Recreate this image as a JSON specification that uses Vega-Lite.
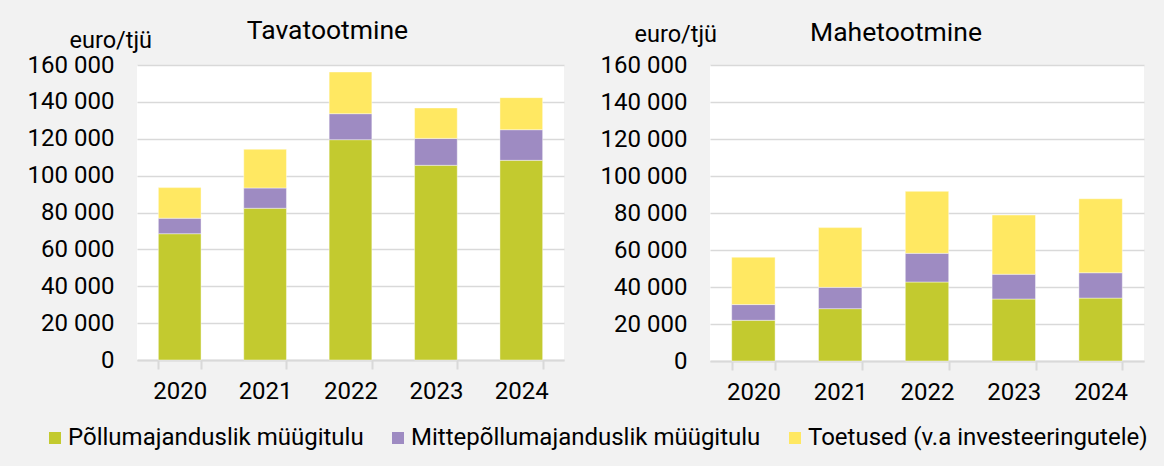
{
  "$schema": "https://vega.github.io/schema/vega-lite/v6.json",
  "background": "#F2F2F2",
  "padding": {"left": 27, "top": 17, "right": 16, "bottom": 18},
  "data": {"values": [
    {"panel": "Tavatootmine", "year": "2020", "cat": "Põllumajanduslik müügitulu", "n": 1, "value": 68500},
    {"panel": "Tavatootmine", "year": "2020", "cat": "Mittepõllumajanduslik müügitulu", "n": 2, "value": 8400},
    {"panel": "Tavatootmine", "year": "2020", "cat": "Toetused (v.a investeeringutele)", "n": 3, "value": 16600},
    {"panel": "Tavatootmine", "year": "2021", "cat": "Põllumajanduslik müügitulu", "n": 1, "value": 82300},
    {"panel": "Tavatootmine", "year": "2021", "cat": "Mittepõllumajanduslik müügitulu", "n": 2, "value": 11000},
    {"panel": "Tavatootmine", "year": "2021", "cat": "Toetused (v.a investeeringutele)", "n": 3, "value": 21000},
    {"panel": "Tavatootmine", "year": "2022", "cat": "Põllumajanduslik müügitulu", "n": 1, "value": 119500},
    {"panel": "Tavatootmine", "year": "2022", "cat": "Mittepõllumajanduslik müügitulu", "n": 2, "value": 14100},
    {"panel": "Tavatootmine", "year": "2022", "cat": "Toetused (v.a investeeringutele)", "n": 3, "value": 22600},
    {"panel": "Tavatootmine", "year": "2023", "cat": "Põllumajanduslik müügitulu", "n": 1, "value": 105600},
    {"panel": "Tavatootmine", "year": "2023", "cat": "Mittepõllumajanduslik müügitulu", "n": 2, "value": 14600},
    {"panel": "Tavatootmine", "year": "2023", "cat": "Toetused (v.a investeeringutele)", "n": 3, "value": 16500},
    {"panel": "Tavatootmine", "year": "2024", "cat": "Põllumajanduslik müügitulu", "n": 1, "value": 108300},
    {"panel": "Tavatootmine", "year": "2024", "cat": "Mittepõllumajanduslik müügitulu", "n": 2, "value": 16600},
    {"panel": "Tavatootmine", "year": "2024", "cat": "Toetused (v.a investeeringutele)", "n": 3, "value": 17400},
    {"panel": "Mahetootmine", "year": "2020", "cat": "Põllumajanduslik müügitulu", "n": 1, "value": 22000},
    {"panel": "Mahetootmine", "year": "2020", "cat": "Mittepõllumajanduslik müügitulu", "n": 2, "value": 8500},
    {"panel": "Mahetootmine", "year": "2020", "cat": "Toetused (v.a investeeringutele)", "n": 3, "value": 25600},
    {"panel": "Mahetootmine", "year": "2021", "cat": "Põllumajanduslik müügitulu", "n": 1, "value": 28300},
    {"panel": "Mahetootmine", "year": "2021", "cat": "Mittepõllumajanduslik müügitulu", "n": 2, "value": 11500},
    {"panel": "Mahetootmine", "year": "2021", "cat": "Toetused (v.a investeeringutele)", "n": 3, "value": 32300},
    {"panel": "Mahetootmine", "year": "2022", "cat": "Põllumajanduslik müügitulu", "n": 1, "value": 42700},
    {"panel": "Mahetootmine", "year": "2022", "cat": "Mittepõllumajanduslik müügitulu", "n": 2, "value": 15500},
    {"panel": "Mahetootmine", "year": "2022", "cat": "Toetused (v.a investeeringutele)", "n": 3, "value": 33500},
    {"panel": "Mahetootmine", "year": "2023", "cat": "Põllumajanduslik müügitulu", "n": 1, "value": 33500},
    {"panel": "Mahetootmine", "year": "2023", "cat": "Mittepõllumajanduslik müügitulu", "n": 2, "value": 13400},
    {"panel": "Mahetootmine", "year": "2023", "cat": "Toetused (v.a investeeringutele)", "n": 3, "value": 32000},
    {"panel": "Mahetootmine", "year": "2024", "cat": "Põllumajanduslik müügitulu", "n": 1, "value": 34000},
    {"panel": "Mahetootmine", "year": "2024", "cat": "Mittepõllumajanduslik müügitulu", "n": 2, "value": 13700},
    {"panel": "Mahetootmine", "year": "2024", "cat": "Toetused (v.a investeeringutele)", "n": 3, "value": 40000}
  ]},
  "spacing": 36,
  "hconcat": [
    {
      "transform": [{"filter": "datum.panel == 'Tavatootmine'"}],
      "title": {"text": "Tavatootmine", "dx": -23, "offset": -16},
      "width": 427,
      "height": 295,
      "mark": {"type": "bar", "stroke": "#ffffff", "strokeWidth": 0.6, "strokeOpacity": 0.7},
      "encoding": {
        "x": {"field": "year", "type": "nominal", "scale": {"paddingInner": 0.5, "paddingOuter": 0.25}, "axis": {"title": null}},
        "y": {"field": "value", "type": "quantitative", "stack": "zero", "scale": {"domain": [0, 160000]},
              "axis": {"title": "euro/tjü", "titleX": -68, "titleY": -18}},
        "color": {"field": "cat", "type": "nominal",
                  "scale": {"domain": ["Põllumajanduslik müügitulu", "Mittepõllumajanduslik müügitulu", "Toetused (v.a investeeringutele)"],
                            "range": ["#C3CA2F", "#9E8BC2", "#FFE862"]},
                  "legend": {"title": null, "orient": "none", "direction": "horizontal", "legendX": -94, "legendY": 361}},
        "order": {"field": "n", "type": "quantitative"}
      }
    },
    {
      "transform": [{"filter": "datum.panel == 'Mahetootmine'"}],
      "title": {"text": "Mahetootmine", "dx": -31, "offset": -24},
      "width": 434,
      "height": 296,
      "mark": {"type": "bar", "stroke": "#ffffff", "strokeWidth": 0.6, "strokeOpacity": 0.7},
      "encoding": {
        "x": {"field": "year", "type": "nominal", "scale": {"paddingInner": 0.5, "paddingOuter": 0.25}, "axis": {"title": null}},
        "y": {"field": "value", "type": "quantitative", "stack": "zero", "scale": {"domain": [0, 160000]},
              "axis": {"title": "euro/tjü", "titleX": -76, "titleY": -24}},
        "color": {"field": "cat", "type": "nominal",
                  "scale": {"domain": ["Põllumajanduslik müügitulu", "Mittepõllumajanduslik müügitulu", "Toetused (v.a investeeringutele)"],
                            "range": ["#C3CA2F", "#9E8BC2", "#FFE862"]}},
        "order": {"field": "n", "type": "quantitative"}
      }
    }
  ],
  "config": {
    "font": "Roboto",
    "view": {"fill": "#ffffff", "stroke": null},
    "title": {"fontSize": 26.5, "fontWeight": "normal", "color": "#000000", "anchor": "middle"},
    "axisX": {
      "labelAngle": 0, "labelFontSize": 24, "labelColor": "#000000", "labelPadding": 10,
      "domainColor": "#D9D9D9", "domainWidth": 2, "tickBand": "extent", "tickColor": "#D9D9D9",
      "tickWidth": 2, "tickSize": 9, "grid": false
    },
    "axisY": {
      "values": [0, 20000, 40000, 60000, 80000, 100000, 120000, 140000, 160000],
      "labelExpr": "replace(format(datum.value, ','), regexp(',', 'g'), ' ')",
      "labelFontSize": 24, "labelColor": "#000000", "labelPadding": 23,
      "ticks": false, "domain": false, "gridColor": "#D9D9D9", "gridWidth": 1.6,
      "titleAngle": 0, "titleAlign": "left", "titleBaseline": "alphabetic",
      "titleFontSize": 23.5, "titleFontWeight": "normal", "titleColor": "#000000"
    },
    "legend": {
      "labelFontSize": 24, "labelColor": "#000000", "symbolType": "square", "symbolSize": 144,
      "symbolStrokeWidth": 0, "labelOffset": 1, "columnPadding": 22, "padding": 0, "labelLimit": 600
    }
  }
}
